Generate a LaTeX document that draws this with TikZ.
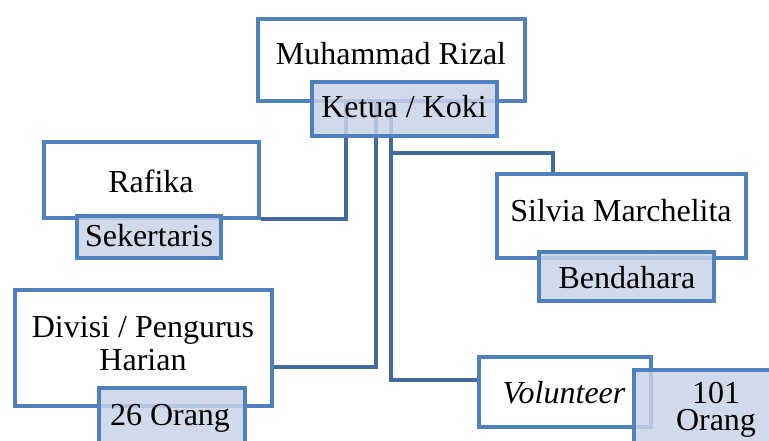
\documentclass[tikz,border=0pt]{standalone}
\usepackage{fontspec}
\setmainfont{Liberation Serif}
\definecolor{bx}{HTML}{4F81BD}
\definecolor{cn}{HTML}{41699B}
\definecolor{lb}{HTML}{C9D3E7}
\begin{document}
\begin{tikzpicture}[x=1pt,y=-1pt,
  box/.style={draw=bx,line width=4pt,fill=white,inner sep=0pt,rectangle},
  lab/.style={draw=bx,line width=4pt,fill=lb,fill opacity=0.85,draw opacity=1,inner sep=0pt,rectangle},
  conn/.style={draw=cn,line width=4pt},
  txt/.style={anchor=base,inner sep=0pt,font=\fontsize{32}{34}\selectfont,text=black}]
\useasboundingbox (0,0) rectangle (769,441);
\clip (0,0) rectangle (769,441);
% main boxes
\node[box,minimum width=267pt,minimum height=82pt] (main) at (391.5,60) {};
\node[box,minimum width=215pt,minimum height=76pt] (rafika) at (151.5,180) {};
\node[box,minimum width=249pt,minimum height=84pt] (silvia) at (621.5,216) {};
\node[box,minimum width=257pt,minimum height=116pt] (divisi) at (143.5,348) {};
\node[box,minimum width=172pt,minimum height=70pt] (volunteer) at (565,392) {};
% connectors
\coordinate (c1) at (346,101);
\coordinate (c2) at (376,101);
\coordinate (c3) at (391,101);
\coordinate (c4) at (391,153);
\draw[conn] (c1) |- ([yshift=1pt]rafika.south east);
\draw[conn] (c2) |- ([yshift=-19pt]divisi.east);
\draw[conn] (c3) |- ([yshift=12pt]volunteer.west);
\draw[conn] (c4) -| ([xshift=-68.5pt]silvia.north);
% label boxes
\node[lab,minimum width=185pt,minimum height=54pt] (ketua) at (404.5,109) {};
\node[lab,minimum width=144pt,minimum height=42pt] (sek) at (149,237) {};
\node[lab,minimum width=175pt,minimum height=49pt] (bend) at (626.5,276.5) {};
\node[lab,minimum width=146pt,minimum height=72pt] (orang26) at (172,424) {};
\node[lab,minimum width=166pt,minimum height=100pt] (orang101) at (717,420) {};
% texts
\node[txt] (t1) at (391,65) {Muhammad Rizal};
\node[txt] (t2) at (404,118) {Ketua / Koki};
\node[txt] (t3) at (151,193) {Rafika};
\node[txt] (t4) at (149,247) {Sekertaris};
\node[txt] (t5) at (621,222) {Silvia Marchelita};
\node[txt] (t6) at (627,288) {Bendahara};
\node[txt,align=center,font=\fontsize{32}{33}\selectfont] (t7) at (143,370) {Divisi / Pengurus\\Harian};
\node[txt] (t9) at (170,425) {26 Orang};
\node[txt] (t10) at (564,403) {\itshape Volunteer};
\node[txt,align=center,font=\fontsize{32}{27}\selectfont] (t11) at (716,430) {101\\Orang};
\end{tikzpicture}
\end{document}
